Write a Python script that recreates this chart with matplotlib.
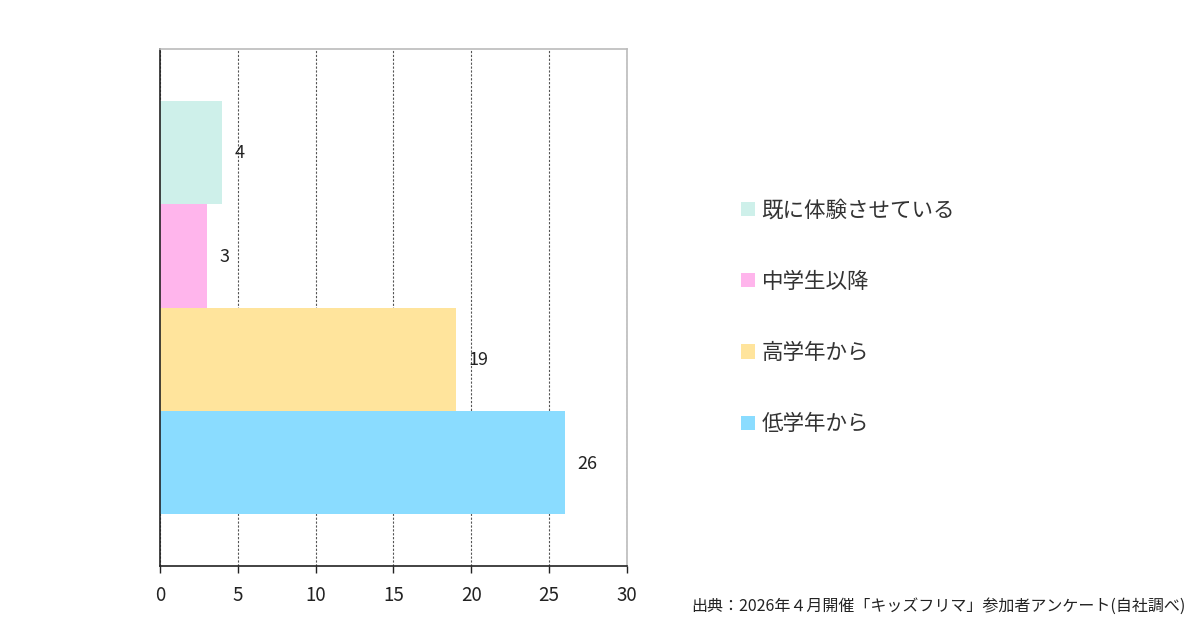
import matplotlib
matplotlib.use("Agg")
import matplotlib.pyplot as plt
from matplotlib.patches import Patch

plt.rcParams['font.family'] = ['Noto Sans CJK JP', 'DejaVu Sans']

categories = ["既に体験させている", "中学生以降", "高学年から", "低学年から"]
values = [4, 3, 19, 26]
colors = ["#CEF0EA", "#FFB5EC", "#FFE49C", "#8ADCFF"]
xticks = [0, 5, 10, 15, 20, 25, 30]
source = "出典：2026年４月開催「キッズフリマ」参加者アンケート(自社調べ)"

fig = plt.figure(figsize=(12, 6.3), dpi=100)
ax = fig.add_axes([0.1333, 0.1016, 0.3892, 0.8206])

pos = list(range(len(categories)))
ax.barh(pos, values, height=1.0, color=colors, zorder=2)
for p, v in zip(pos, values):
    ax.text(v + 0.8, p + 0.01, str(v), va='center', ha='left', fontsize=13, color='#222222')

ax.set_xlim(0, 30)
ax.set_ylim(4.0, -1.0)
ax.set_xticks(xticks)
ax.set_xticklabels([str(t) for t in xticks], fontsize=13.5, color='#222222')
ax.set_yticks([])
ax.tick_params(axis='x', direction='out', length=5, width=1, color='#222222', pad=9)
ax.xaxis.grid(True, linestyle=(0, (2, 1.5)), color='#555555', linewidth=0.8, zorder=1)
ax.set_axisbelow(True)
for s in ['left', 'bottom']:
    ax.spines[s].set_color('#222222')
    ax.spines[s].set_linewidth(1.2)
for s in ['top', 'right']:
    ax.spines[s].set_color('#BBBBBB')
    ax.spines[s].set_linewidth(1.2)

handles = [Patch(facecolor=c, edgecolor='none') for c in colors]
fig.legend(handles, categories, loc='center left', bbox_to_anchor=(0.601, 0.496),
           frameon=False, fontsize=15.5, handlelength=0.65, handleheight=0.65,
           handletextpad=0.33, labelspacing=2.29, labelcolor='#333333')

fig.text(0.988, 0.037, source, ha='right', va='center', fontsize=11.5, color='#222222')

fig.savefig("out.png", dpi=100)
